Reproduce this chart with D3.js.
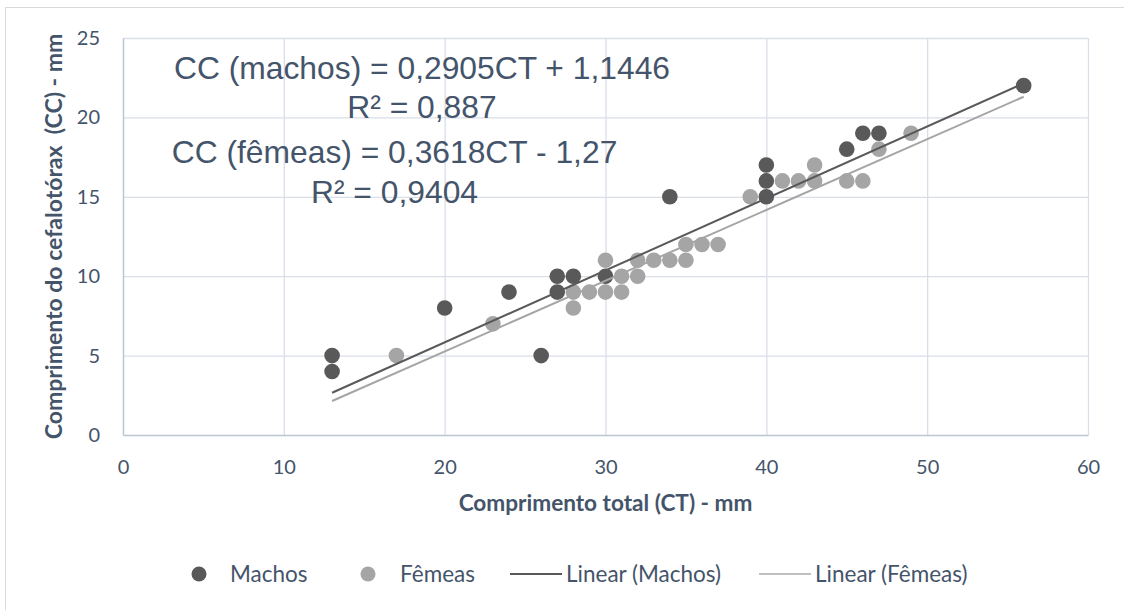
<!DOCTYPE html>
<html>
<head>
<meta charset="utf-8">
<script src="https://cdn.jsdelivr.net/npm/d3@7/dist/d3.min.js"></script>
<style>
  body { margin: 0; background: #fff; }
  svg { display: block; }
</style>
</head>
<body>
<svg width="1124" height="610"></svg>
<script>
// data
var machosCT = [13, 13, 20, 24, 26, 27, 27, 28, 30, 34, 40, 40, 40, 45, 46, 47, 56];
var machosCC = [5, 4, 8, 9, 5, 10, 9, 10, 10, 15, 17, 16, 15, 18, 19, 19, 22];

var femeasCT = [17, 23, 28, 28, 29, 30, 30, 31, 31, 32, 32, 33, 34, 35, 35, 36, 37, 39, 41, 42, 43, 43, 45, 46, 47, 49];
var femeasCC = [5, 7, 9, 8, 9, 11, 9, 10, 9, 11, 10, 11, 11, 12, 11, 12, 12, 15, 16, 16, 17, 16, 16, 16, 18, 19];

// trendline ends as drawn (CT, CC)
var linearMachos = [[13, 2.66], [56, 22.15]];
var linearFemeas = [[13, 2.14], [56, 21.3]];

var xTicks = [0, 10, 20, 30, 40, 50, 60];
var yTicks = [0, 5, 10, 15, 20, 25];

var eqMachos = ["CC (machos) = 0,2905CT + 1,1446", "R² = 0,887"];
var eqFemeas = ["CC (fêmeas) = 0,3618CT - 1,27", "R² = 0,9404"];

var legendNames = ["Machos", "Fêmeas", "Linear (Machos)", "Linear (Fêmeas)"];

var svg = d3.select("svg"),
    margin = {left: 123, right: 36, top: 38, bottom: 175},
    width = +svg.attr("width") - margin.left - margin.right,
    height = +svg.attr("height") - margin.top - margin.bottom;

var textColor = "#44546A",
    darkGrey = "#595959",
    lightGrey = "#A5A5A5";

// chart border
svg.append("rect")
    .attr("x", 5.5).attr("y", 7.5)
    .attr("width", 1200).attr("height", 700)
    .attr("fill", "none")
    .attr("stroke", "#D9D9D9");

var x = d3.scaleLinear().domain([0, 60]).range([0, width]);
var y = d3.scaleLinear().domain([0, 25]).range([height, 0]);

var g = svg.append("g").attr("transform", "translate(" + margin.left + "," + margin.top + ")");

// gridlines
g.append("g")
    .attr("class", "grid")
    .call(d3.axisLeft(y).tickValues(yTicks.slice(1)).tickSize(-width).tickFormat(""))
    .call(function(s) {
      s.select(".domain").remove();
      s.selectAll("line").attr("stroke", "#D9DEE8").attr("stroke-width", 1.3);
    });
g.append("g")
    .attr("class", "grid")
    .attr("transform", "translate(0," + height + ")")
    .call(d3.axisBottom(x).tickValues(xTicks.slice(1)).tickSize(-height).tickFormat(""))
    .call(function(s) {
      s.select(".domain").remove();
      s.selectAll("line").attr("stroke", "#D9DEE8").attr("stroke-width", 1.3);
    });

// axes
g.append("g")
    .attr("transform", "translate(0," + height + ")")
    .call(d3.axisBottom(x).tickValues(xTicks).tickSize(0).tickPadding(25))
    .call(function(s) {
      s.select(".domain").attr("stroke", "#BCC5D3").attr("stroke-width", 1.5);
      s.selectAll("text").attr("fill", textColor)
        .style("font-family", "Lato, sans-serif").style("font-size", "20px");
    });
g.append("g")
    .call(d3.axisLeft(y).tickValues(yTicks).tickSize(0).tickPadding(23))
    .call(function(s) {
      s.select(".domain").attr("stroke", "#BCC5D3").attr("stroke-width", 1.5);
      s.selectAll("text").attr("fill", textColor)
        .style("font-family", "Lato, sans-serif").style("font-size", "20px");
    });

// axis titles
svg.append("text")
    .attr("x", margin.left + width / 2).attr("y", 511)
    .attr("text-anchor", "middle")
    .attr("fill", textColor)
    .style("font-family", "Lato, sans-serif").style("font-size", "22.6px").style("font-weight", "bold")
    .text("Comprimento total (CT) - mm");
svg.append("text")
    .attr("transform", "translate(62," + (margin.top + height / 2) + ") rotate(-90)")
    .attr("text-anchor", "middle")
    .attr("fill", textColor)
    .style("font-family", "Lato, sans-serif").style("font-size", "23px").style("font-weight", "bold")
    .style("white-space", "pre")
    .text("Comprimento do cefalotórax  (CC) - mm");

// points
var machos = machosCT.map(function(d, i) { return {x: d, y: machosCC[i]}; });
var femeas = femeasCT.map(function(d, i) { return {x: d, y: femeasCC[i]}; });

g.append("g").selectAll("circle")
    .data(machos)
    .enter().append("circle")
      .attr("cx", function(d) { return x(d.x); })
      .attr("cy", function(d) { return y(d.y); })
      .attr("r", 7.8)
      .attr("fill", darkGrey);

g.append("g").selectAll("circle")
    .data(femeas)
    .enter().append("circle")
      .attr("cx", function(d) { return x(d.x); })
      .attr("cy", function(d) { return y(d.y); })
      .attr("r", 7.8)
      .attr("fill", lightGrey);

// trendlines
var line = d3.line()
    .x(function(d) { return x(d[0]); })
    .y(function(d) { return y(d[1]); });

g.append("path").datum(linearMachos)
    .attr("d", line).attr("fill", "none")
    .attr("stroke", darkGrey).attr("stroke-width", 2);
g.append("path").datum(linearFemeas)
    .attr("d", line).attr("fill", "none")
    .attr("stroke", lightGrey).attr("stroke-width", 2);

// trendline labels
function eqLabel(lines, cx, baselines) {
  svg.append("g").selectAll("text")
    .data(lines)
    .enter().append("text")
      .attr("x", cx)
      .attr("y", function(d, i) { return baselines[i]; })
      .attr("text-anchor", "middle")
      .attr("fill", textColor)
      .style("font-family", "'Liberation Sans', Arial, sans-serif")
      .style("font-size", "31.8px")
      .text(function(d) { return d; });
}
eqLabel(eqMachos, 422, [79, 117.5]);
eqLabel(eqFemeas, 394.5, [163, 203]);

// legend
var legend = svg.append("g").attr("class", "legend");
var legY = 574;
var legItems = [
  {name: legendNames[0], type: "dot", color: darkGrey, mx: 199, tx: 230},
  {name: legendNames[1], type: "dot", color: lightGrey, mx: 368, tx: 400},
  {name: legendNames[2], type: "line", color: darkGrey, mx: 510, tx: 566},
  {name: legendNames[3], type: "line", color: "#BFBFBF", mx: 759, tx: 815}
];
legItems.forEach(function(d) {
  if (d.type == "dot") {
    legend.append("circle").attr("cx", d.mx).attr("cy", legY).attr("r", 7.5).attr("fill", d.color);
  } else {
    legend.append("line").attr("x1", d.mx).attr("x2", d.mx + 52)
      .attr("y1", legY).attr("y2", legY)
      .attr("stroke", d.color).attr("stroke-width", 2);
  }
  legend.append("text")
    .attr("x", d.tx).attr("y", legY + 7.5)
    .attr("fill", textColor)
    .style("font-family", "Lato, sans-serif").style("font-size", "22.5px")
    .text(d.name);
});
</script>
</body>
</html>
